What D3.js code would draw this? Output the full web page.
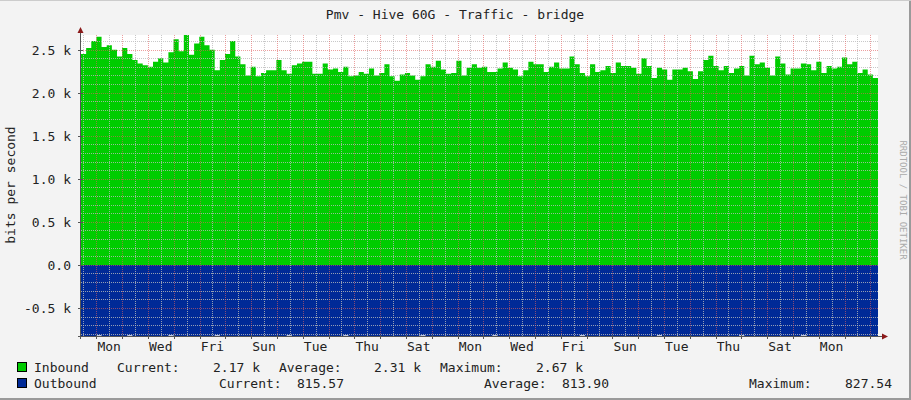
<!DOCTYPE html>
<html><head><meta charset="utf-8">
<script src="https://cdn.jsdelivr.net/npm/d3@7"></script>
<style>body{margin:0;background:#f3f3f3}svg{display:block;font-family:"DejaVu Sans Mono",monospace}</style>
</head><body><svg id="c" width="911" height="400"></svg>
<script>
const inbound=[2.45,2.52,2.6,2.65,2.53,2.55,2.5,2.42,2.52,2.45,2.38,2.34,2.32,2.3,2.36,2.4,2.35,2.47,2.62,2.48,2.67,2.44,2.57,2.65,2.55,2.5,2.26,2.38,2.45,2.6,2.42,2.33,2.2,2.3,2.19,2.23,2.26,2.26,2.38,2.26,2.22,2.32,
2.34,2.36,2.36,2.22,2.22,2.34,2.27,2.28,2.24,2.3,2.19,2.2,2.24,2.22,2.28,2.2,2.23,2.33,2.19,2.14,2.21,2.23,2.2,2.15,2.19,2.33,2.3,2.37,2.27,2.22,2.23,2.37,2.2,2.29,2.33,2.29,2.3,2.24,2.24,2.28,2.35,2.29,2.27,2.19,2.26,2.36,2.33,2.33,2.24,2.3,2.35,2.28,2.28,2.42,2.33,2.23,2.19,2.33,2.24,
2.26,2.31,2.23,2.35,2.31,2.31,2.29,2.22,2.4,2.31,2.17,2.29,2.27,2.15,2.27,2.27,2.29,2.25,2.16,2.25,2.38,2.43,2.31,2.26,2.31,2.23,2.28,2.31,2.2,2.43,2.33,2.35,2.29,2.2,2.42,2.34,2.21,2.28,2.28,2.34,2.33,2.26,2.36,2.23,2.31,2.28,2.3,2.41,2.33,2.36,2.23,2.27,2.21,2.17];
const outbound=inbound.map((d,i)=>[3,9,17,26,40,51,66,80,97,112,128,140].includes(i)?0.816:0.826);
const yTicks=[-0.5,0,0.5,1.0,1.5,2.0,2.5];
const yTickLabels=["-0.5 k","0.0","0.5 k","1.0 k","1.5 k","2.0 k","2.5 k"];
const dayNames=["Sun","Mon","Tue","Wed","Thu","Fri","Sat"];
const legendIn=["Inbound","Current:","2.17 k","Average:","2.31 k","Maximum:","2.67 k"];
const legendOut=["Outbound","Current:","815.57","Average:","813.90","Maximum:","827.54"];

const svg=d3.select("#c");
const L=81,R=878,T=35,B=336;
const dayMs=86400000, pxDay=25.8;
const start=new Date(Date.UTC(2024,0,1)-15.3/pxDay*dayMs);
const end=new Date(start.getTime()+(R-L)/pxDay*dayMs);
const x=d3.scaleUtc().domain([start,end]).range([L,R]);
const y=d3.scaleLinear().domain([-0.826,2.67]).range([B,T]);
const N=inbound.length, stepMs=(end-start)/N;
const tAt=i=>new Date(start.getTime()+i*stepMs);

// border shading
svg.append("rect").attr("x",0).attr("y",0).attr("width",911).attr("height",400).attr("fill","#f3f3f3");
svg.append("line").attr("x1",0).attr("x2",911).attr("y1",399).attr("y2",399).attr("stroke","#9a9a9a").attr("stroke-width",2);
svg.append("line").attr("x1",910).attr("x2",910).attr("y1",0).attr("y2",400).attr("stroke","#9a9a9a").attr("stroke-width",2);
svg.append("line").attr("x1",0).attr("x2",911).attr("y1",0.5).attr("y2",0.5).attr("stroke","#ccc");
svg.append("rect").attr("x",L).attr("y",T).attr("width",R-L).attr("height",B-T).attr("fill","#fff");

const area=(arr,sign)=>d3.area().curve(d3.curveStepAfter).x(d=>x(d.t)).y0(y(0)).y1(d=>y(sign*d.v));
const pts=arr=>{const p=arr.map((v,i)=>({t:tAt(i),v}));p.push({t:end,v:arr[arr.length-1]});return p;};
svg.append("path").attr("d",area(inbound,1)(pts(inbound))).attr("fill","#00cc00");
svg.append("path").attr("d",area(outbound,-1)(pts(outbound))).attr("fill","#002a97");

const g=svg.append("g");
// minor horizontal
d3.range(-8,27).forEach(k=>{const v=k/10;if(k%5===0)return;const yy=Math.round(y(v))+0.5;if(yy<T||yy>B)return;
 g.append("line").attr("x1",L).attr("x2",R).attr("y1",yy).attr("y2",yy).attr("stroke","#bbb").attr("stroke-dasharray","1,1").attr("opacity",0.8);});
// minor vertical 12h
x.ticks(d3.utcHour.every(12)).forEach(t=>{if(t.getUTCHours()===0)return;const xx=Math.round(x(t))+0.5;
 g.append("line").attr("x1",xx).attr("x2",xx).attr("y1",T).attr("y2",B).attr("stroke","#bbb").attr("stroke-dasharray","1,1").attr("opacity",0.8);});
// major
yTicks.forEach(v=>{const yy=Math.round(y(v))+0.5;
 g.append("line").attr("x1",L).attr("x2",R).attr("y1",yy).attr("y2",yy).attr("stroke","#e06060").attr("stroke-dasharray","1,1").attr("opacity",0.6);});
x.ticks(d3.utcDay.every(1)).forEach(t=>{const xx=Math.round(x(t))+0.5;
 g.append("line").attr("x1",xx).attr("x2",xx).attr("y1",T).attr("y2",B).attr("stroke","#e06060").attr("stroke-dasharray","1,1").attr("opacity",0.6);});

// axes
svg.append("line").attr("x1",L-0.5).attr("x2",L-0.5).attr("y1",B+3).attr("y2",T-5).attr("stroke","#555");
svg.append("line").attr("x1",L-3).attr("x2",R+6).attr("y1",B+0.5).attr("y2",B+0.5).attr("stroke","#555");
svg.append("path").attr("d",`M${L-3.5},${T-2}L${L+2.5},${T-2}L${L-0.5},${T-8}Z`).attr("fill","#8b1a1a");
svg.append("path").attr("d",`M${R+4},${B-2.5}L${R+4},${B+3.5}L${R+10},${B+0.5}Z`).attr("fill","#8b1a1a");
yTicks.forEach((v,i)=>{const yy=Math.round(y(v))+0.5;
 svg.append("line").attr("x1",L-3).attr("x2",L+2).attr("y1",yy).attr("y2",yy).attr("stroke","#555");
 svg.append("text").attr("x",71).attr("y",yy+4.5).attr("text-anchor","end").attr("font-size",13).attr("fill","#222").text(yTickLabels[i]);});
x.ticks(d3.utcDay.every(1)).forEach(t=>{const xx=Math.round(x(t))+0.5;
 svg.append("line").attr("x1",xx).attr("x2",xx).attr("y1",B-1).attr("y2",B+3).attr("stroke","#555");});
d3.utcDay.range(new Date(Date.UTC(2024,0,1)),end,2).forEach(t=>{const m=new Date(t.getTime()+dayMs/2);if(m>end)return;
 svg.append("text").attr("x",x(m)).attr("y",351).attr("text-anchor","middle").attr("font-size",13).attr("fill","#222").text(dayNames[t.getUTCDay()]);});

svg.append("text").attr("x",455).attr("y",19).attr("text-anchor","middle").attr("font-size",13).attr("fill","#222").text("Pmv - Hive 60G - Traffic - bridge");
svg.append("text").attr("transform","translate(15,185) rotate(-90)").attr("text-anchor","middle").attr("font-size",13).attr("fill","#222").text("bits per second");
svg.append("text").attr("transform","translate(900,200) rotate(90)").attr("text-anchor","middle").attr("font-size",9).attr("fill","#aaa").text("RRDTOOL / TOBI OETIKER");

// legend
const lg=[[legendIn,"#00cc00",372,[[34,"start"],[117,"start"],[260,"end"],[279,"start"],[421,"end"],[440,"start"],[583,"end"]]],
          [legendOut,"#002a97",388,[[34,"start"],[219,"start"],[344,"end"],[484,"start"],[609,"end"],[749,"start"],[892,"end"]]]];
lg.forEach(([txt,col,yy,pos])=>{
 svg.append("rect").attr("x",17.5).attr("y",yy-9.5).attr("width",9).attr("height",9).attr("fill",col).attr("stroke","#000");
 txt.forEach((s,i)=>svg.append("text").attr("x",pos[i][0]).attr("y",yy).attr("text-anchor",pos[i][1]).attr("font-size",13).attr("fill","#222").text(s));});
</script></body></html>
